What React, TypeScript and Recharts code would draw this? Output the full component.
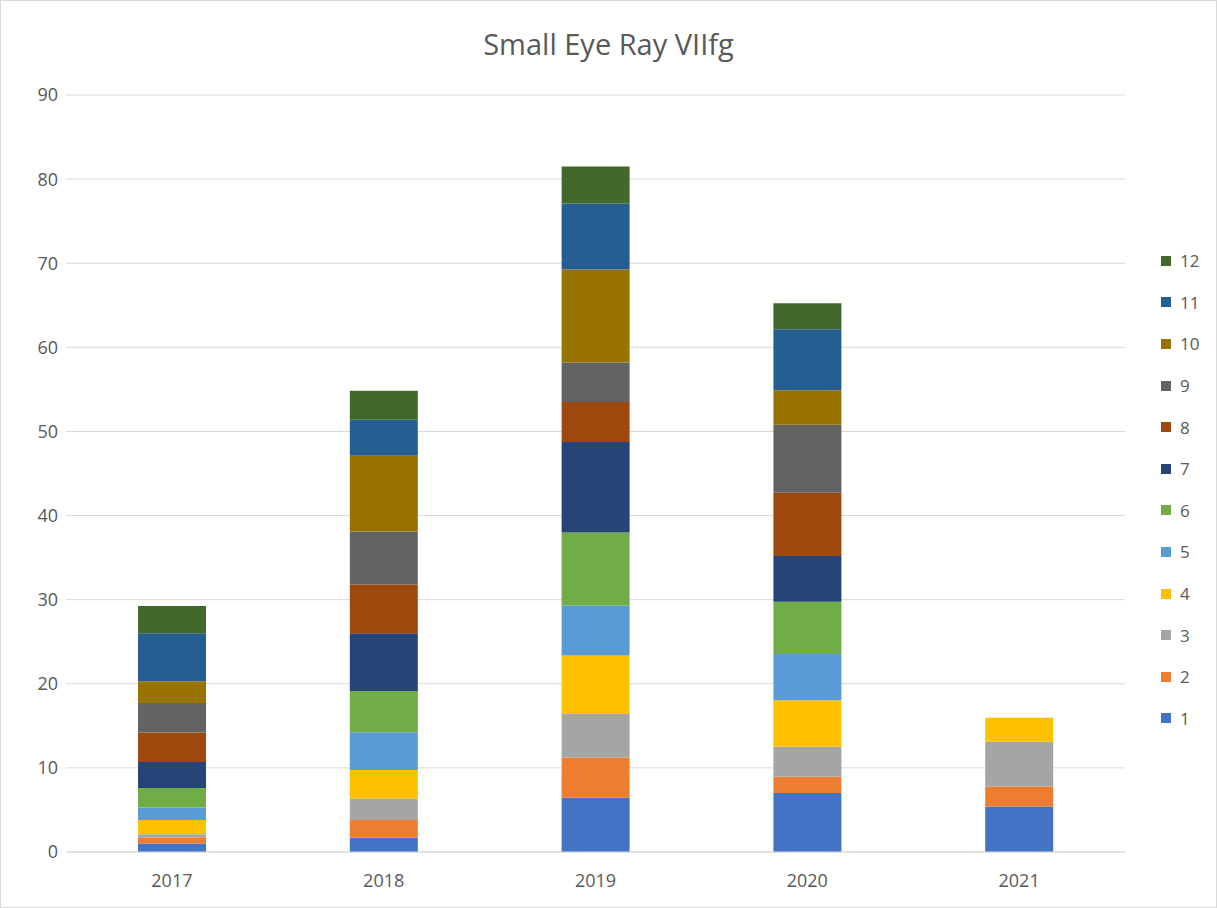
import { BarChart, Bar, XAxis, YAxis, CartesianGrid } from "recharts"

// years on the x axis
const years = ["2017", "2018", "2019", "2020", "2021"]

// stack values per series
const s1 = [1.0, 1.7, 6.45, 7.0, 5.4]
const s2 = [0.7, 2.1, 4.8, 1.95, 2.4]
const s3 = [0.4, 2.55, 5.15, 3.55, 5.3]
const s4 = [1.7, 3.4, 6.95, 5.55, 2.85]
const s5 = [1.5, 4.5, 5.95, 5.5, 0]
const s6 = [2.3, 4.9, 8.7, 6.2, 0]
const s7 = [3.1, 6.85, 10.75, 5.45, 0]
const s8 = [3.5, 5.8, 4.75, 7.5, 0]
const s9 = [3.5, 6.3, 4.7, 8.1, 0]
const s10 = [2.6, 9.0, 11.05, 4.1, 0]
const s11 = [5.7, 4.3, 7.85, 7.25, 0]
const s12 = [3.25, 3.45, 4.4, 3.1, 0]

const seriesNames = ["1", "2", "3", "4", "5", "6", "7", "8", "9", "10", "11", "12"]
const seriesValues = [s1, s2, s3, s4, s5, s6, s7, s8, s9, s10, s11, s12]
const yTicks = [0, 10, 20, 30, 40, 50, 60, 70, 80, 90]

// office palette
const colors = [
  "#4472C4", "#ED7D31", "#A5A5A5", "#FFC000", "#5B9BD5", "#70AD47",
  "#264478", "#9E480E", "#636363", "#997300", "#255E91", "#43682B",
]

const data = years.map((year, i) => {
  const row: Record<string, string | number> = { year }
  seriesNames.forEach((name, j) => {
    row[name] = seriesValues[j][i]
  })
  return row
})

const font = "Open Sans, Liberation Sans, sans-serif"

// legend goes top to bottom 12..1, drawn outside recharts so it doesn't eat plot space
function LegendList() {
  const items = seriesNames.map((name, i) => ({ name, color: colors[i] })).reverse()
  return (
    <div style={{ position: "absolute", left: 1160, top: 239 }}>
      {items.map((it) => (
        <div key={it.name} style={{ display: "flex", alignItems: "center", height: 41.6 }}>
          <span style={{ width: 10, height: 10, background: it.color, marginRight: 9 }} />
          <span style={{ fontSize: 17, color: "#595959", fontFamily: font }}>{it.name}</span>
        </div>
      ))}
    </div>
  )
}

export default function App() {
  return (
    <div
      style={{
        position: "absolute",
        left: 0,
        top: 0,
        width: 1215,
        height: 906,
        border: "1px solid #d9d9d9",
        background: "#fff",
      }}
    >
      <div
        style={{
          position: "absolute",
          top: 23,
          width: "100%",
          textAlign: "center",
          fontSize: 29,
          color: "#595959",
          fontFamily: font,
        }}
      >
        Small Eye Ray VIIfg
      </div>
      <BarChart
        width={1215}
        height={906}
        data={data}
        margin={{ top: 94, right: 91, bottom: 25, left: 0 }}
        barCategoryGap="34%"
      >
        <CartesianGrid vertical={false} stroke="#d9d9d9" />
        <XAxis
          dataKey="year"
          axisLine={{ stroke: "#d9d9d9" }}
          tickLine={false}
          tickMargin={16}
          tick={{ fill: "#595959", fontSize: 18, fontFamily: font }}
        />
        <YAxis
          domain={[0, 90]}
          ticks={yTicks}
          width={65}
          axisLine={false}
          tickLine={false}
          tick={{ fill: "#595959", fontSize: 18, fontFamily: font }}
        />
        {seriesNames.map((name, i) => (
          <Bar key={name} dataKey={name} stackId="a" fill={colors[i]} isAnimationActive={false} />
        ))}
      </BarChart>
      <LegendList />
    </div>
  )
}
